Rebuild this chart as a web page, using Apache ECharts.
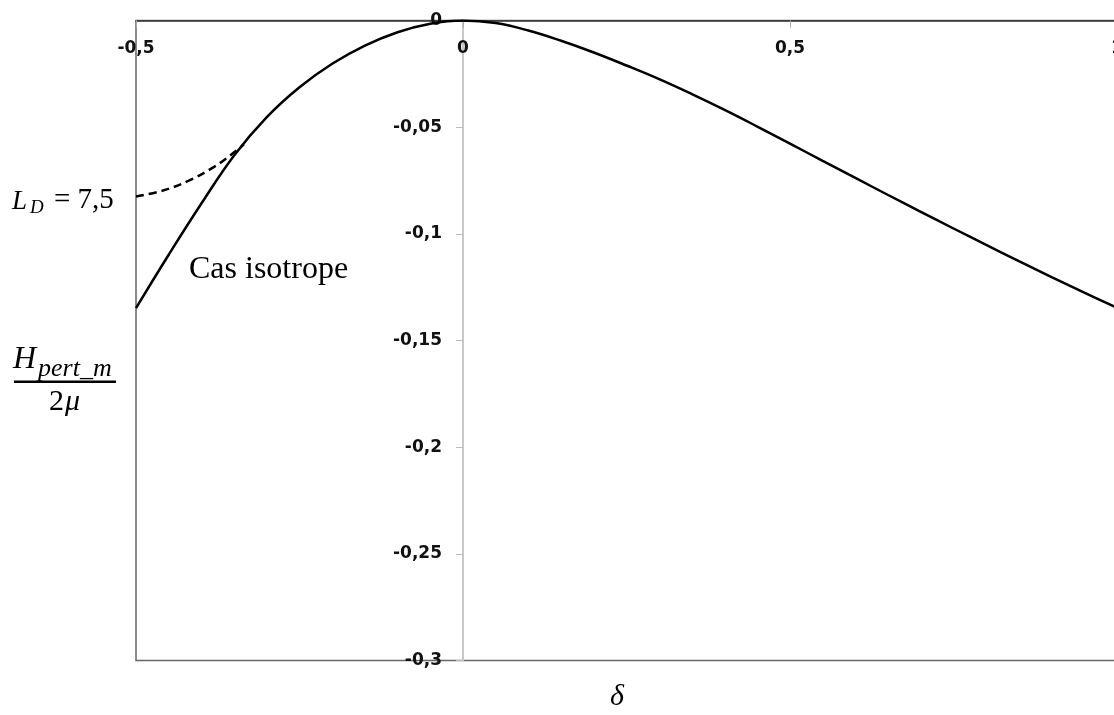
<!DOCTYPE html>
<html>
<head>
<meta charset="utf-8">
<script src="https://cdn.jsdelivr.net/npm/echarts@6/dist/echarts.min.js"></script>
<style>
  html, body { margin: 0; padding: 0; background: #fff; }
  #main { width: 1114px; height: 715px; }
</style>
</head>
<body>
<div id="main"></div>
<script>
// courbe pleine (cas isotrope)
var deltaSolid = [-0.5, -0.45, -0.4, -0.35, -0.3, -0.25, -0.2, -0.15, -0.1, -0.05, 0, 0.05, 0.1, 0.15, 0.2, 0.25, 0.3, 0.35, 0.4, 0.45, 0.5, 0.55, 0.6, 0.65, 0.7, 0.75, 0.8, 0.85, 0.9, 0.95, 1];
var hSolid = [-0.1348, -0.1098, -0.0858, -0.0633, -0.0453, -0.0313, -0.0203, -0.0118, -0.0055, -0.0015, 0, -0.0012, -0.0047, -0.0095, -0.0150, -0.0211, -0.0275, -0.0345, -0.0419, -0.0497, -0.0577, -0.0658, -0.0738, -0.0818, -0.0897, -0.0975, -0.1052, -0.1128, -0.1203, -0.1276, -0.1347];

// courbe pointillee (L_D = 7,5)
var deltaDashed = [-0.5, -0.46, -0.42, -0.38, -0.35, -0.335];
var hDashed = [-0.0825, -0.0798, -0.0752, -0.0685, -0.0618, -0.0580];

var xTicks = {min: -0.5, max: 1, step: 0.5};
var yTicks = {min: -0.3, max: 0, step: 0.05};

function pairs(xs, ys) {
    var out = [];
    for (var i = 0; i < xs.length; i++) {
        out.push([xs[i], ys[i]]);
    }
    return out;
}

function virgule(v) {
    return String(v).replace('.', ',');
}

var chart = echarts.init(document.getElementById('main'));

var labelStyle = {
    fontFamily: 'DejaVu Sans',
    fontWeight: 'bold',
    fontSize: 17,
    color: '#111'
};

var gridLeft = 136, gridWidth = 981;

var option = {
    animation: false,
    backgroundColor: '#fff',
    grid: {
        left: gridLeft,
        top: 20.5,
        width: gridWidth,
        height: 640,
        outerBoundsMode: 'none',
        containLabel: false,
        show: true,
        borderColor: '#666',
        borderWidth: 1.5
    },
    xAxis: {
        type: 'value',
        position: 'top',
        min: xTicks.min,
        max: xTicks.max,
        interval: xTicks.step,
        axisLine: {onZero: false, lineStyle: {color: '#333', width: 1.5}},
        axisTick: {inside: true, length: 7, lineStyle: {color: '#aaa'}},
        axisLabel: Object.assign({inside: true, margin: 20, formatter: virgule}, labelStyle),
        splitLine: {show: false}
    },
    yAxis: {
        type: 'value',
        position: 'left',
        // axe vertical place sur delta = 0
        offset: -gridWidth * (0 - xTicks.min) / (xTicks.max - xTicks.min),
        min: yTicks.min,
        max: yTicks.max,
        interval: yTicks.step,
        axisLine: {show: true, onZero: false, lineStyle: {color: '#c8c8c8', width: 2}},
        axisTick: {show: true, length: 7, lineStyle: {color: '#bbb'}},
        axisLabel: Object.assign({margin: 21, formatter: virgule}, labelStyle),
        splitLine: {show: false}
    },
    series: [
        {
            name: 'Cas isotrope',
            type: 'line',
            data: pairs(deltaSolid, hSolid),
            showSymbol: false,
            smooth: 0.4,
            lineStyle: {color: '#000', width: 2.5}
        },
        {
            name: 'L_D = 7,5',
            type: 'line',
            data: pairs(deltaDashed, hDashed),
            showSymbol: false,
            smooth: 0.4,
            lineStyle: {color: '#000', width: 2.5, type: [8, 5]}
        }
    ],
    graphic: [
        // L_D = 7,5
        {type: 'text', left: 12, top: 188, style: {text: 'L', font: 'italic 27px "Liberation Serif"', fill: '#000'}},
        {type: 'text', left: 30, top: 198, style: {text: 'D', font: 'italic 19px "Liberation Serif"', fill: '#000'}},
        {type: 'text', left: 54, top: 186, style: {text: '= 7,5', font: '29px "Liberation Serif"', fill: '#000'}},
        // H_pert_m / 2mu
        {type: 'text', left: 13, top: 344, style: {text: 'H', font: 'italic 32px "Liberation Serif"', fill: '#000'}},
        {type: 'text', left: 38, top: 356, style: {text: 'pert_m', font: 'italic 26px "Liberation Serif"', fill: '#000'}},
        {type: 'rect', shape: {x: 14, y: 380.5, width: 102, height: 2.5}, style: {fill: '#000'}},
        {type: 'text', left: 49, top: 387, style: {text: '2', font: '30px "Liberation Serif"', fill: '#000'}},
        {type: 'text', left: 65, top: 387, style: {text: 'μ', font: 'italic 30px "Liberation Serif"', fill: '#000'}},
        // annotations
        {type: 'text', left: 189, top: 254, style: {text: 'Cas isotrope', font: '32px "Liberation Serif"', fill: '#000'}},
        {type: 'text', left: 610, top: 682, style: {text: 'δ', font: 'italic 30px "Liberation Serif"', fill: '#000'}}
    ]
};

chart.setOption(option);
</script>
</body>
</html>
